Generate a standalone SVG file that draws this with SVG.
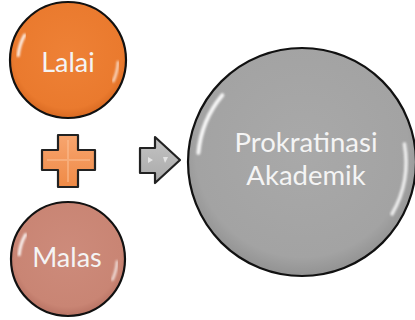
<svg xmlns="http://www.w3.org/2000/svg" width="415" height="320" viewBox="0 0 415 320">
<defs>
<style>
.ring{stroke:#111;stroke-width:2.2}
.hl{fill:none;stroke:#fff;stroke-linecap:round;filter:url(#blur)}
.lbl{font-family:Lato,"Open Sans",sans-serif;fill:#f4f4f4;text-anchor:middle}
</style>
<filter id="blur" x="-20%" y="-20%" width="140%" height="140%"><feGaussianBlur stdDeviation="1.2"/></filter>
<radialGradient id="gO" cx="50%" cy="45%" r="55%"><stop offset="0" stop-color="#ee8136"/><stop offset="0.85" stop-color="#ea7a2e"/><stop offset="1" stop-color="#d96a22"/></radialGradient>
<radialGradient id="gM" cx="50%" cy="45%" r="55%"><stop offset="0" stop-color="#cd8b7b"/><stop offset="0.85" stop-color="#c98574"/><stop offset="1" stop-color="#b87364"/></radialGradient>
<radialGradient id="gG" cx="50%" cy="45%" r="55%"><stop offset="0" stop-color="#a9a9a9"/><stop offset="0.85" stop-color="#a3a3a3"/><stop offset="1" stop-color="#929292"/></radialGradient>
<linearGradient id="gP" x1="0" y1="0" x2="0" y2="1"><stop offset="0" stop-color="#f7a56f"/><stop offset="1" stop-color="#ef8a46"/></linearGradient>
<linearGradient id="gA" x1="0" y1="0" x2="0" y2="1"><stop offset="0" stop-color="#c4c4c4"/><stop offset="1" stop-color="#a9a9a9"/></linearGradient>
</defs>

<g id="lalai">
<circle cx="68" cy="60" r="58" fill="url(#gO)" class="ring"/>
<path class="hl" stroke-width="3" d="M24.7 35 A50 50 0 0 0 18.2 55.6" opacity="0.9"/>
<path class="hl" stroke-width="2.5" d="M118 62 A50 50 0 0 1 113.3 81.1" opacity="0.75"/>
<text class="lbl" x="68" y="72" font-size="27">Lalai</text>
</g>

<g id="malas">
<circle cx="68" cy="259" r="57" fill="url(#gM)" class="ring"/>
<path class="hl" stroke-width="3" d="M25.6 234.5 A49 49 0 0 0 19.2 254.7" opacity="0.9"/>
<path class="hl" stroke-width="2.5" d="M117 261.6 A49 49 0 0 1 112.4 279.7" opacity="0.75"/>
<text class="lbl" x="67" y="267" font-size="27">Malas</text>
</g>

<g id="plus">
<path d="M58 135 H78 V150 H95 V170 H78 V187 H58 V170 H42 V150 H58 Z" fill="url(#gP)" stroke="#222" stroke-width="2.2" stroke-linejoin="round"/>
<path d="M68 140 V182 M47 160 H90" stroke="#fbc197" stroke-width="2" opacity="0.5" fill="none"/>
</g>

<g id="connectors">
<g id="arrow">
<path d="M140 148 H155 V137 L180 160 L155 183 V173 H140 Z" fill="url(#gA)" stroke="#222" stroke-width="2.2" stroke-linejoin="round"/>
<path d="M148 157 L153 160 L148 163 Z M163 157 L168 157 L165 163 Z" fill="#eee" opacity="0.8"/>
</g>
</g>

<g id="prokrastinasi">
<circle cx="302" cy="162" r="114" fill="url(#gG)" class="ring"/>
<path class="hl" stroke-width="4" d="M222.3 95.2 A104 104 0 0 0 198.4 152.9" opacity="0.9"/>
<path class="hl" stroke-width="3.5" d="M404.4 143.9 A104 104 0 0 1 392 214" opacity="0.8"/>
<text class="lbl" x="306" y="152" font-size="27.5">Prokratinasi</text>
<text class="lbl" x="306" y="185" font-size="27.5">Akademik</text>
</g>
</svg>
